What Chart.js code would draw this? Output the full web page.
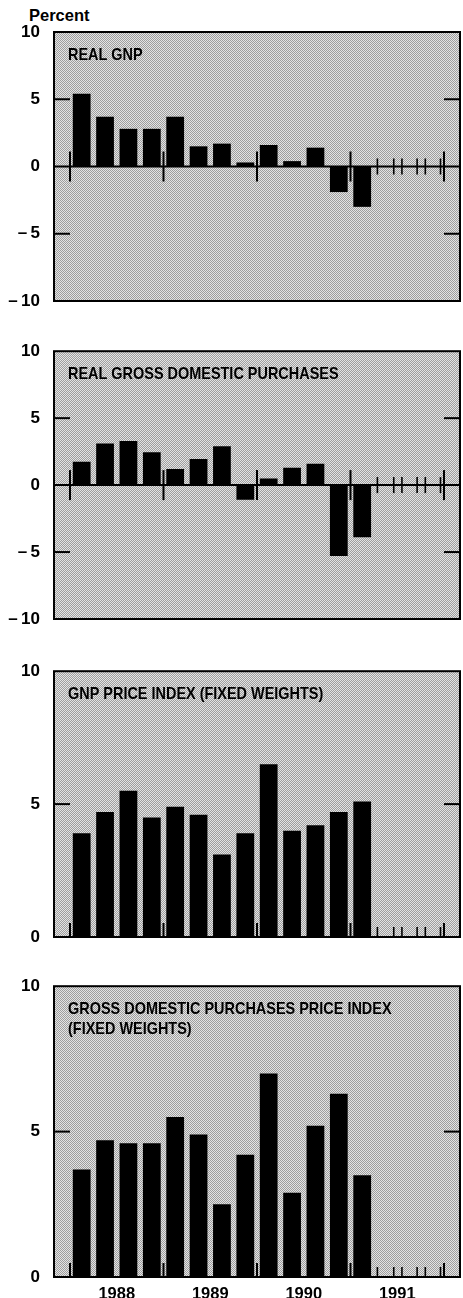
<!DOCTYPE html>
<html><head><meta charset="utf-8">
<script src="https://cdn.jsdelivr.net/npm/chart.js@4"></script>
<style>
html,body{margin:0;padding:0;background:#fff;}
body{width:463px;height:1298px;position:relative;overflow:hidden;font-family:"Liberation Sans",Arial,sans-serif;}
.box{position:absolute;left:0;width:463px;}
#percent{position:absolute;left:29px;top:5px;font-size:16.5px;font-weight:bold;line-height:20px;color:#000;}
</style></head><body>
<div id="percent">Percent</div>
<div class="box" style="top:0;height:332px"><canvas id="c1"></canvas></div>
<div class="box" style="top:335px;height:315px"><canvas id="c2"></canvas></div>
<div class="box" style="top:655px;height:313px"><canvas id="c3"></canvas></div>
<div class="box" style="top:970px;height:328px"><canvas id="c4"></canvas></div>
<script>
// ---- data ----
const quarterLabels = ['1988 I','1988 II','1988 III','1988 IV','1989 I','1989 II','1989 III','1989 IV','1990 I','1990 II','1990 III','1990 IV','1991 I'];
const yearLabels = ['1988','1989','1990','1991'];
const realGNP = [5.4, 3.7, 2.8, 2.8, 3.7, 1.5, 1.7, 0.3, 1.6, 0.4, 1.4, -1.9, -3.0];
const realGDPurchases = [1.75, 3.1, 3.3, 2.45, 1.2, 1.95, 2.9, -1.1, 0.5, 1.3, 1.6, -5.3, -3.9];
const gnpPriceIndex = [3.9, 4.7, 5.5, 4.5, 4.9, 4.6, 3.1, 3.9, 6.5, 4.0, 4.2, 4.7, 5.1];
const gdpPriceIndex = [3.7, 4.7, 4.6, 4.6, 5.5, 4.9, 2.5, 4.2, 7.0, 2.9, 5.2, 6.3, 3.5];
const signedTicks = [-10, -5, 0, 5, 10];
const positiveTicks = [0, 5, 10];
const yearBoundaries = [0, 4, 8, 12, 16];      // in quarters from 1988 I
const yearCenters = [2, 6, 10, 14];
const minorTicks = [13.15, 13.85, 14.2, 14.85, 15.2, 15.85];
const titles = [
  ['REAL GNP'],
  ['REAL GROSS DOMESTIC PURCHASES'],
  ['GNP PRICE INDEX (FIXED WEIGHTS)'],
  ['GROSS DOMESTIC PURCHASES PRICE INDEX', '(FIXED WEIGHTS)']
];

const TICK_FONT = {family: '"Liberation Sans", Arial, sans-serif', size: 17, weight: 'bold'};
const X_FONT = {family: '"Liberation Sans", Arial, sans-serif', size: 16.5, weight: 'bold'};
const TITLE_FONT = 'bold 17px "Liberation Sans", Arial, sans-serif';
const TITLE_CONDENSE = 0.85;

function makePattern(ctx){
  const c = document.createElement('canvas'); c.width = 4; c.height = 4;
  const g = c.getContext('2d');
  g.fillStyle = '#e4e4e4'; g.fillRect(0,0,4,4);
  g.fillStyle = '#9e9e9e';
  for (let yy=0; yy<4; yy++) for (let xx=0; xx<4; xx++) if ((xx+yy)%2===0) g.fillRect(xx,yy,1,1);
  return ctx.createPattern(c,'repeat');
}

const decor = {
  id: 'decor',
  beforeDatasetsDraw(chart){
    const {ctx, chartArea:a} = chart;
    ctx.save();
    ctx.fillStyle = makePattern(ctx);
    ctx.fillRect(a.left, a.top, a.right-a.left, a.bottom-a.top);
    ctx.restore();
  },
  afterDatasetsDraw(chart, args, o){
    const {ctx, chartArea:a, scales:{x, y}} = chart;
    const line = (x1,y1,x2,y2)=>{ctx.beginPath();ctx.moveTo(x1,y1);ctx.lineTo(x2,y2);ctx.stroke();};
    ctx.save();
    ctx.strokeStyle = '#000'; ctx.lineCap = 'butt';
    const y0 = y.getPixelForValue(0);
    if (o.signed){ ctx.lineWidth = 2; line(a.left, y0, a.right, y0); }
    ctx.lineWidth = 2;
    yearBoundaries.forEach(q=>{
      const px = x.getPixelForValue(q);
      if (o.signed) line(px, y0-15, px, y0+15); else line(px, y0, px, y0-14);
    });
    ctx.lineWidth = 1.6;
    minorTicks.forEach(q=>{
      const px = x.getPixelForValue(q);
      if (o.signed) line(px, y0-8, px, y0+8); else line(px, y0, px, y0-10);
    });
    ctx.lineWidth = 2;
    o.inner.forEach(v=>{
      const py = y.getPixelForValue(v);
      line(a.left, py, a.left+16, py);
      line(a.right-16, py, a.right, py);
    });
    ctx.strokeRect(a.left, a.top, a.right-a.left, a.bottom-a.top);
    ctx.fillStyle = '#000';
    ctx.font = TITLE_FONT;
    ctx.textBaseline = 'alphabetic';
    o.title.forEach((t,i)=>{
      ctx.save();
      ctx.translate(a.left+14, a.top+28+i*20);
      ctx.scale(TITLE_CONDENSE, 1);
      ctx.fillText(t, 0, 0);
      ctx.restore();
    });
    ctx.restore();
  }
};

function makeChart(id, values, signed, title, showX, pad){
  const yTicks = signed ? signedTicks : positiveTicks;
  return new Chart(document.getElementById(id), {
    type: 'bar',
    data: {
      labels: quarterLabels,
      datasets: [{
        data: values.map((v,i)=>({x: i+0.5, y: v})),
        backgroundColor: '#000',
        borderWidth: 0,
        barPercentage: 0.76,
        categoryPercentage: 1
      }]
    },
    options: {
      responsive: true, maintainAspectRatio: false, animation: false,
      layout: {padding: {top: pad.top, bottom: pad.bottom, left: 0, right: 3}},
      plugins: {legend: {display: false}, tooltip: {enabled: false},
        decor: {signed, title, inner: signed ? [-5, 5] : [5]}},
      scales: {
        x: {
          type: 'linear', min: -0.684, max: 16.684, offset: false, display: showX,
          bounds: 'data',
          grid: {display: false}, border: {display: false},
          afterBuildTicks: s => { s.ticks = yearCenters.map(v=>({value: v})); },
          ticks: {callback: v => yearLabels[yearCenters.indexOf(v)], font: X_FONT, color: '#000',
                  padding: 0, maxRotation: 0, autoSkip: false},
          afterFit: s => { s.height = 21; }
        },
        y: {
          min: signed ? -10 : 0, max: 10,
          grid: {display: false}, border: {display: false},
          afterBuildTicks: s => { s.ticks = yTicks.map(v=>({value: v})); },
          ticks: {callback: v => v < 0 ? '\u2013\u2009' + Math.abs(v) : String(v), font: TICK_FONT, color: '#000', padding: 6},
          afterFit: s => { s.width = 54; }
        }
      }
    },
    plugins: [decor]
  });
}

makeChart('c1', realGNP, true, titles[0], false, {top: 32, bottom: 10});
makeChart('c2', realGDPurchases, true, titles[1], false, {top: 14, bottom: 10});
makeChart('c3', gnpPriceIndex, false, titles[2], false, {top: 16, bottom: 10});
makeChart('c4', gdpPriceIndex, false, titles[3], true, {top: 14, bottom: 0});
</script>
</body></html>
